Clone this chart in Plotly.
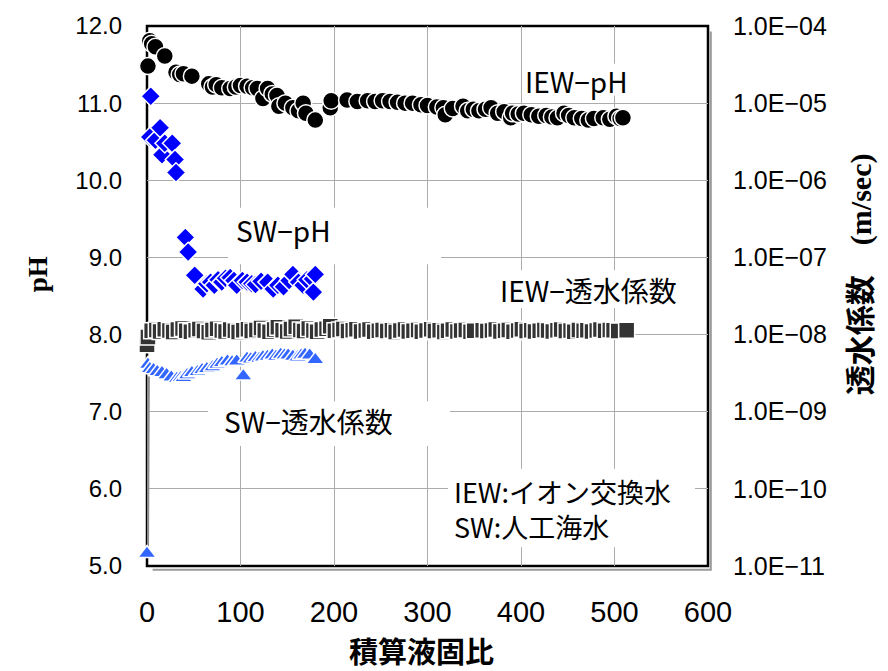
import plotly.graph_objects as go

# ---------------- data ----------------
iew_ph_x = [1, 3, 5, 9, 19, 31, 35, 39, 48, 66,
            70, 74, 80, 89, 95, 100, 107, 113, 118, 124,
            129, 134, 139, 141, 148, 156, 162, 167, 170, 180,
            196, 197, 214, 225, 236, 244, 252, 260, 268, 276,
            284, 293, 300, 310, 317, 319, 327, 338, 343, 349,
            355, 362, 368, 375, 382, 389, 391, 397, 403, 411,
            419, 427, 433, 439, 446, 451, 457, 465, 472, 478,
            488, 495, 502, 506, 509]
iew_ph = [11.48, 11.81, 11.77, 11.73, 11.61, 11.40, 11.37, 11.38, 11.35, 11.25,
          11.21, 11.24, 11.20, 11.19, 11.21, 11.23, 11.22, 11.20, 11.19, 11.06,
          11.19, 11.12, 11.10, 10.96, 11.00, 10.94, 10.90, 11.00, 10.87, 10.78,
          10.94, 11.03, 11.04, 11.02, 11.03, 11.02, 11.03, 11.02, 11.01, 11.00,
          11.00, 10.98, 10.97, 10.95, 10.94, 10.85, 10.93, 10.96, 10.90, 10.92,
          10.90, 10.92, 10.94, 10.87, 10.89, 10.81, 10.87, 10.86, 10.87, 10.85,
          10.83, 10.84, 10.82, 10.81, 10.87, 10.84, 10.81, 10.80, 10.78, 10.80,
          10.81, 10.79, 10.83, 10.80, 10.81]

sw_ph_x = [4, 3, 9, 14, 16, 19, 27, 30, 31, 41,
           44, 51, 60, 64, 68, 72, 76, 80, 84, 89,
           93, 96, 102, 107, 112, 116, 122, 129, 135, 140,
           146, 152, 156, 162, 167, 171, 177, 178, 180]
sw_ph = [11.09, 10.56, 10.52, 10.68, 10.33, 10.48, 10.48, 10.27, 10.10, 9.26,
         9.07, 8.77, 8.59, 8.66, 8.68, 8.64, 8.71, 8.68, 8.73, 8.74,
         8.70, 8.64, 8.70, 8.68, 8.66, 8.65, 8.69, 8.68, 8.59, 8.64,
         8.62, 8.70, 8.78, 8.68, 8.64, 8.71, 8.72, 8.55, 8.78]

iew_k_x = [0, 1, 5, 10, 14, 19, 24, 28, 33, 38,
           42, 47, 52, 56, 61, 66, 70, 75, 80, 84,
           89, 94, 98, 103, 108, 112, 117, 122, 126, 131,
           136, 140, 145, 150, 154, 159, 164, 168, 173, 178,
           182, 187, 192, 196, 201, 206, 210, 215, 220, 224,
           229, 234, 238, 243, 248, 252, 257, 262, 266, 271,
           276, 280, 285, 290, 294, 299, 304, 308, 313, 318,
           322, 327, 332, 336, 341, 346, 350, 359, 364, 369,
           373, 378, 383, 387, 392, 397, 401, 406, 411, 415,
           420, 425, 429, 434, 439, 443, 448, 453, 457, 462,
           467, 471, 476, 481, 485, 490, 495, 499, 504, 513]
iew_k = [7.4e-9, 9.3e-9, 1.12e-8, 1.15e-8, 1.10e-8, 1.17e-8, 1.13e-8, 1.08e-8, 1.16e-8, 1.20e-8,
         1.12e-8, 1.09e-8, 1.14e-8, 1.18e-8, 1.11e-8, 1.07e-8, 1.15e-8, 1.19e-8, 1.13e-8, 1.10e-8,
         1.16e-8, 1.12e-8, 1.08e-8, 1.14e-8, 1.17e-8, 1.11e-8, 1.15e-8, 1.22e-8, 1.13e-8, 1.09e-8,
         1.16e-8, 1.24e-8, 1.14e-8, 1.10e-8, 1.18e-8, 1.26e-8, 1.15e-8, 1.11e-8, 1.20e-8, 1.13e-8,
         1.09e-8, 1.16e-8, 1.19e-8, 1.28e-8, 1.12e-8, 1.15e-8, 1.18e-8, 1.11e-8, 1.14e-8, 1.17e-8,
         1.10e-8, 1.13e-8, 1.16e-8, 1.09e-8, 1.12e-8, 1.15e-8, 1.11e-8, 1.14e-8, 1.08e-8, 1.13e-8,
         1.16e-8, 1.10e-8, 1.12e-8, 1.15e-8, 1.09e-8, 1.13e-8, 1.17e-8, 1.11e-8, 1.14e-8, 1.08e-8,
         1.12e-8, 1.16e-8, 1.10e-8, 1.13e-8, 1.15e-8, 1.09e-8, 1.12e-8, 1.14e-8, 1.11e-8, 1.13e-8,
         1.16e-8, 1.10e-8, 1.12e-8, 1.15e-8, 1.09e-8, 1.13e-8, 1.17e-8, 1.11e-8, 1.14e-8, 1.10e-8,
         1.12e-8, 1.15e-8, 1.13e-8, 1.10e-8, 1.14e-8, 1.16e-8, 1.11e-8, 1.13e-8, 1.09e-8, 1.15e-8,
         1.12e-8, 1.14e-8, 1.10e-8, 1.13e-8, 1.16e-8, 1.12e-8, 1.15e-8, 1.14e-8, 1.11e-8, 1.14e-8]

sw_k_x = [0, 1, 3, 7, 11, 16, 21, 26, 32, 36,
          39, 43, 48, 54, 59, 64, 70, 75, 80, 86,
          91, 96, 103, 107, 111, 116, 120, 124, 129, 134,
          138, 143, 147, 151, 156, 161, 165, 169, 174, 180]
sw_k = [1.45e-11, 4.1e-9, 3.6e-9, 3.5e-9, 3.3e-9, 3.2e-9, 3.0e-9, 2.8e-9, 2.7e-9, 2.75e-9,
        2.75e-9, 3.0e-9, 3.2e-9, 3.3e-9, 3.5e-9, 3.6e-9, 3.8e-9, 4.1e-9, 4.3e-9, 4.5e-9,
        4.4e-9, 4.5e-9, 2.9e-9, 4.9e-9, 4.8e-9, 5.0e-9, 4.9e-9, 5.1e-9, 5.2e-9, 5.4e-9,
        5.2e-9, 5.5e-9, 5.4e-9, 5.4e-9, 5.2e-9, 5.1e-9, 5.4e-9, 5.5e-9, 5.4e-9, 4.7e-9]

x_ticks = [0, 100, 200, 300, 400, 500, 600]
ph_ticks = [5, 6, 7, 8, 9, 10, 11, 12]
k_ticks = [1e-11, 1e-10, 1e-9, 1e-8, 1e-7, 1e-6, 1e-5, 1e-4]
k_ticktext = ["1.0E−11", "1.0E−10", "1.0E−09", "1.0E−08",
              "1.0E−07", "1.0E−06", "1.0E−05", "1.0E−04"]

assert len(iew_ph_x) == len(iew_ph)
assert len(sw_ph_x) == len(sw_ph)
assert len(iew_k_x) == len(iew_k)
assert len(sw_k_x) == len(sw_k)

# ---------------- geometry helpers (plot area in px) ----------------
L, R, T, B = 147, 708, 22, 566
W, H = 888, 671


def px2x(px):
    return (px - L) / (R - L) * 600


def py2ph(py):
    return 12 - (py - T) / (B - T) * 7


def pxp(px):
    return (px - L) / (R - L)


def pyp(py):
    return (B - py) / (B - T)


JP = "Noto Sans CJK JP"
fig = go.Figure()

# SW permeability connecting line (visible only at the start)
fig.add_trace(go.Scatter(x=sw_k_x[:2], y=sw_k[:2], mode="lines", yaxis="y2", cliponaxis=False,
                         line=dict(color="#8c8c8c", width=4), showlegend=False, hoverinfo="skip"))
fig.add_trace(go.Scatter(x=iew_k_x, y=iew_k, mode="markers", yaxis="y2", name="IEW-透水係数",
                         cliponaxis=False,
                         marker=dict(symbol="square", size=16, color="#333333",
                                     line=dict(color="white", width=1.5))))
fig.add_trace(go.Scatter(x=sw_k_x, y=sw_k, mode="markers", yaxis="y2", name="SW-透水係数",
                         cliponaxis=False,
                         marker=dict(symbol="triangle-up", size=16, color="#3366FF",
                                     line=dict(color="white", width=1.5))))
fig.add_trace(go.Scatter(x=iew_ph_x, y=iew_ph, mode="markers", name="IEW-pH", cliponaxis=False,
                         marker=dict(symbol="circle", size=17, color="black",
                                     line=dict(color="white", width=1.5))))
fig.add_trace(go.Scatter(x=sw_ph_x, y=sw_ph, mode="markers", name="SW-pH", cliponaxis=False,
                         marker=dict(symbol="diamond", size=15, color="#0000FF",
                                     line=dict(color="white", width=1.5))))

shapes = []
# white boxes behind the text labels (they hide gridlines as in the original)
for (x0, x1, y0, y1) in [(228, 441, 205, 262), (208, 450, 400, 445), (448, 695, 468, 547),
                         (488, 690, 268, 306), (523, 630, 60, 92)]:
    shapes.append(dict(type="rect", layer="between", xref="x", yref="y",
                       x0=px2x(x0), x1=px2x(x1), y0=py2ph(y1), y1=py2ph(y0),
                       fillcolor="white", line=dict(width=0)))
# drop shadow of plot frame
shapes.append(dict(type="path", layer="between", xref="paper", yref="paper",
                   path="M 1.005,0.99 L 1.005,-0.007 L 0.01,-0.007",
                   line=dict(color="#9a9a9a", width=2)))
# plot frame
shapes.append(dict(type="rect", layer="between", xref="paper", yref="paper",
                   x0=0, x1=1, y0=0, y1=1, line=dict(color="black", width=2.5)))

ann = []
txt_font = dict(family=JP, size=28, color="black")
for text, cx, cy in [("IEW−pH", 576, 77), ("SW−pH", 283, 228), ("IEW−透水係数", 588, 288),
                     ("SW−透水係数", 308, 420)]:
    ann.append(dict(x=px2x(cx), y=py2ph(cy), xref="x", yref="y", text=text, showarrow=False,
                    font=txt_font, xanchor="center", yanchor="middle"))
ann.append(dict(x=px2x(452), y=py2ph(509), xref="x", yref="y",
                text="IEW:イオン交換水<br>SW:人工海水", showarrow=False, align="left",
                font=dict(family=JP, size=27, color="black"), xanchor="left",
                yanchor="middle"))

# axis titles
ann.append(dict(x=pxp(38), y=pyp(272), xref="paper", yref="paper", text="<b>pH</b>",
                showarrow=False, textangle=-90, xanchor="center", yanchor="middle",
                font=dict(family="Liberation Serif", size=27, color="black")))
ann.append(dict(x=pxp(421), y=pyp(651), xref="paper", yref="paper", text="<b>積算液固比</b>",
                showarrow=False, xanchor="center", yanchor="middle",
                font=dict(family=JP, size=29, color="black")))
ann.append(dict(x=pxp(858), y=pyp(272), xref="paper", yref="paper",
                text="<b>透水係数</b>　<b><span style='font-family:Liberation Serif'>(m/sec)</span></b>",
                showarrow=False, textangle=-90, xanchor="center", yanchor="middle",
                font=dict(family=JP, size=30, color="black")))

fig.update_layout(
    width=W, height=H,
    margin=dict(l=L, r=W - R, t=T, b=H - B),
    paper_bgcolor="white", plot_bgcolor="white",
    showlegend=False,
    xaxis=dict(range=[0, 600], tickvals=x_ticks, showgrid=True, gridcolor="#ababab", gridwidth=1.3,
               zeroline=False, showline=False, ticks="", ticklabelstandoff=26,
               tickfont=dict(family="Liberation Sans Narrow, Liberation Sans", size=29, color="black")),
    yaxis=dict(range=[5, 12], tickvals=ph_ticks, tickformat=".1f", showgrid=True,
               gridcolor="#ababab", gridwidth=1.3, zeroline=False, showline=False, ticks="",
               ticklabelstandoff=24,
               tickfont=dict(family="Liberation Sans", size=24, color="black")),
    yaxis2=dict(overlaying="y", side="right", type="log", range=[-11, -4], tickvals=k_ticks,
                ticktext=k_ticktext, showgrid=False, zeroline=False, showline=False, ticks="",
                ticklabelstandoff=24,
                tickfont=dict(family="Liberation Sans", size=25, color="black")),
    shapes=shapes,
    annotations=ann,
)

fig.write_html("out.html")
